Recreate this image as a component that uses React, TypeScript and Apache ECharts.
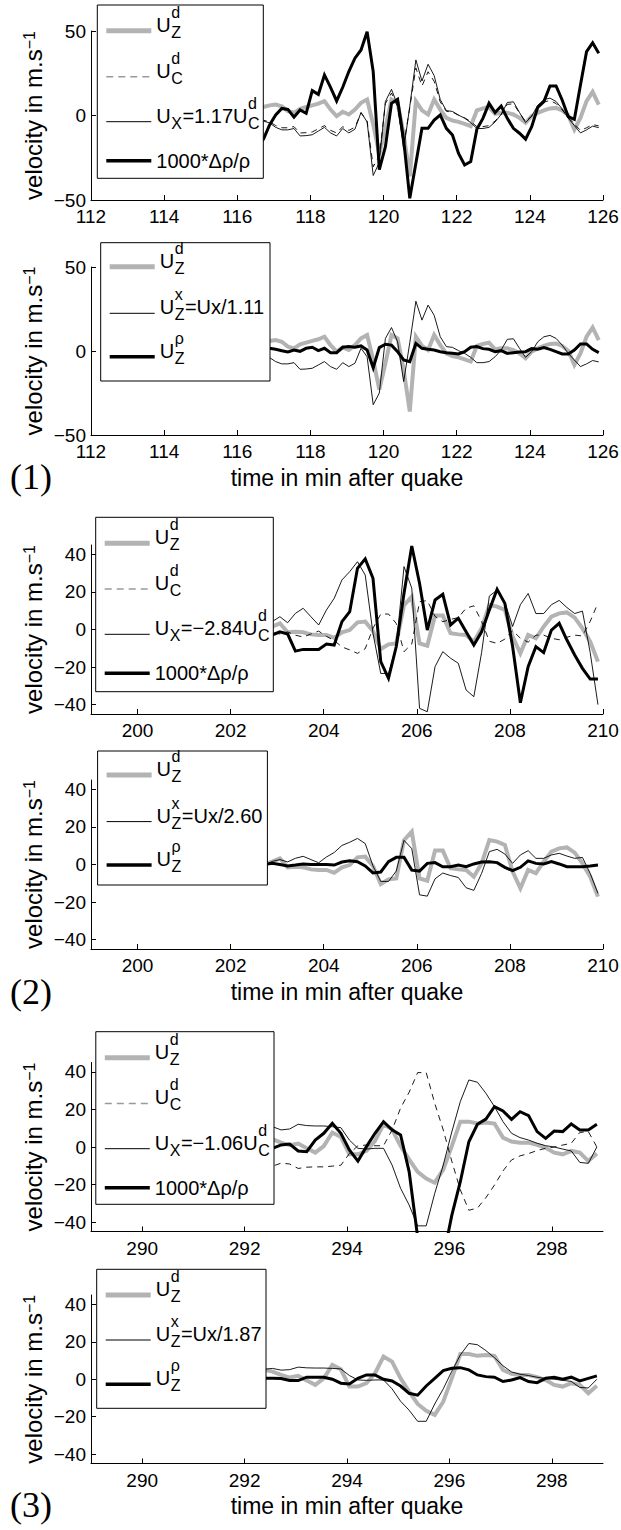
import React, { useEffect, useRef } from "react";
import * as echarts from "echarts";

// ---------------- DATA ----------------
// Sampling interval: 10 s = 1/6 min
const STEP = 1 / 6;

// Event (1): 112-126 min
const T1_START = 116.05;
const UZD_1 = [3, 2, 4, 5, 5, 6, 6.5, 5.5, 2.6, 1.6, 4, 5, 6, 7, 8.5, 3.5, -0.4, 2.2, 0.6, 3.5, 7.5, 9.5, -5.3, -23, -7.3, 9.5, 7.5, -11.3, -36, 8.5, 3, 0.6, 9.5, 3.5, -1.4, -3, -3.8, -5, -6.3, 3, 4.2, 5, 1, 1.6, 1.6, 0.6, -1.4, -4.3, -0.4, 1.6, 3, 4.2, 4.5, 3, 0.2, -8.3, -1.4, 8.5, 14, 6.5];
const UX_1 = [-2.2, -3.3, -3.3, -3.3, -3.3, -4.4, -7.0, -8.5, -8.5, -7.7, -12.1, -11.9, -11.4, -9.2, -7.0, -10.3, -12.1, -7.7, -10.3, -8.1, 1.8, -3.8, -35.5, -27.8, 8.3, 15.5, 6.1, -20.2, 5.5, 32.9, 20.4, 30.3, 23.6, 9.4, 2.9, 2.4, 0.2, -1.6, -4.2, -7.7, -7.7, -7.0, -3.8, 0.7, 7.7, 8.1, 1.8, -4.2, -0.4, 6.1, 9.4, 10.3, 8.3, 3.9, -1.6, -5.9, -10.3, -8.5, -6.3, -7.2];
const RHO_1 = [-37, -30, -24, -18, -14, -5.6, 0.3, 4.2, 3.6, -1, 3.3, 1.3, 14.7, 12.5, 24, 16.7, 8.6, 16.7, 26, 33.9, 38.8, 49.6, 26, -32, -18.4, 7.2, 9.6, -14.5, -49, -28.3, -7.6, -7.6, -2.7, 0.3, -7.6, -11.5, -22.4, -29.3, -27.3, -8.2, -1.7, 7.2, 1.7, 5.6, -1.7, -7.6, -10.5, -14, -6.6, 4.8, 8.2, 17.5, 17.5, 9.2, -0.7, -2.3, 18, 37.8, 43, 36.8];
const UZRHO_1 = [1, 1, 1.5, 1.5, 1.5, 1.6, 1, 0.2, -0.6, 0.6, -0.2, 1.6, 2.2, 0.2, 1.6, -1, -1, 2.2, 2.6, 2.2, 3, 0.6, -10, 2, 4, 3.5, -0.4, -5.3, -6.3, 4.5, 1.6, 1, 0.6, -0.4, -1, -1.4, -1.8, -0.4, 2.2, 2.6, 1.4, 1, -0.4, 0.2, -1.4, -1, -0.6, -0.4, 1.4, 1, 2, 1, -0.4, -1.8, -1.8, 0.6, 4.2, 4.2, 1, -1];
const KC_1 = 1.17; // Ux = 1.17 U_C^d
const KZ_1 = 1.11; // U_Z^x = Ux / 1.11

// Event (2): 199-210 min
const T2_START = 202.725;
const UZD_2 = [0, 1.5, 3.3, -1.5, -1.2, -1.5, -2.6, -2.9, -2.9, -4.4, -1.5, -0.3, 3.8, 4.2, -0.8, -10.4, -7.9, -7.4, 13, 17.5, -7.4, -8.6, 7.4, 7.4, -2, -2.6, -2.9, -6.5, 0.6, 13, 12.2, 10.4, -3.8, -12.7, -2.9, -4.7, 1.5, 6.8, 8.6, 9.1, 6.3, 0.6, -6.5, -17.1];
const UX_2 = [-1, 4.2, 6.8, 3.6, 8.6, 11.3, 6.8, 2.4, 10.4, 16.6, 26.4, 30.8, 36.1, 29, -2, -23.4, -23.4, -9.1, 33.5, 22, -42, -43.8, -19.8, -11.8, -15.3, -18, -32.2, -35.8, -12.3, 17.8, 21, 14.5, 1.6, 13.2, 19.2, 8.5, 8.5, 13.2, 15.5, 11.7, 8.5, 9.8, -12.3, -40];
const RHO_2 = [0, -2.9, -1.2, -2.4, -11.5, -10.6, -10.6, -10.6, -7.7, -8.3, 4.2, 9.5, 32.6, 37.6, 27.3, -17.1, -26, -9.1, 19.3, 44.5, 24.6, -0.3, 15.7, 18.7, 2.4, 6, -1.2, -8.3, -1.2, 10.4, 21.4, 13.9, -9.1, -39, -19.8, -9.1, -12.3, -0.3, 3.3, -5.6, -13.6, -20.7, -26.4, -26.4];
const UZRHO_2 = [0, 0.6, 0, -0.8, -0.3, 0.3, 0, 0, 0, -0.3, 1.3, 2, 1.5, -0.8, -4.5, -4, 1.5, 3.8, 3.8, -3, -3.5, 0.6, 1, -1.2, -1.2, -0.3, -1.2, 0.3, 1.3, 1.5, 1, -1.5, -3.3, -1.5, 1.9, 0.6, 0.3, 1.5, 0.3, -1.2, -1.2, -1.2, -0.8, -0.3];
const KC_2 = -2.84;
const KZ_2 = 2.6;

// Event (3): 289-299 min
const T3_START = 292.38;
const UZD_3 = [5, 4.1, 2.3, 0.9, 1.8, -0.7, -3, 0.5, 7.7, 5.3, -3.9, -3.9, -2.1, 3.2, 12.1, 9.4, 0.5, -6.6, -13.2, -16.8, -19, -12, 0.5, 13.5, 13.5, 12.5, 13, 12.5, 5, 2.9, 2.3, 2.3, 1.1, -0.4, -3, -3.9, -2.1, -3, -7.5, -3.5];
const UX_3 = [10, 10.8, 9.1, 9.6, 12.1, 11.4, 11.2, 11.2, 10.8, 10.3, 3.7, -0.7, -1.1, -0.7, -0.7, -9.6, -22, -30.9, -42, -42, -24.7, -9.6, 8, 24.2, 35.7, 34.5, 28.6, 21.5, 13.5, 7.3, 5, 3.7, 2, 0.7, 0, -1.1, -2.1, -8.2, -8.7, 0];
const RHO_3 = [-2, -0.7, 1.1, 1.6, -2.1, -2.5, 3.7, 7.3, 12.6, 7.3, -1.6, -7.5, 0.2, 7.3, 13.5, 9.1, 6.4, -13.1, -48, -62, -66, -59, -36.4, -18.5, 2.8, 12.1, 14.9, 21.5, 19.2, 14.7, 18.8, 16.7, 8.2, 4.6, 8.5, 8.2, 12.3, 9.1, 9.1, 12.1];
const UZRHO_3 = [0.5, 0.5, 0.4, -0.7, -0.7, 1.1, 1.1, 1.1, 0, -2.1, -2.5, 0.5, 2.3, 2.3, 0, -0.9, -3.6, -7.5, -8.5, -3.6, 0.5, 4.6, 5.9, 6.2, 5, 2.3, 1.4, 1.1, -1.2, -0.4, 0.9, -1.2, -1.8, 0.5, 1.1, 0, 1.1, -0.9, 0.5, 1.8];
const KC_3 = -1.06;
const KZ_3 = 1.87;

// Axis ticks
const X_TICKS_1 = [112, 114, 116, 118, 120, 122, 124, 126];
const X_TICKS_2 = [200, 202, 204, 206, 208, 210];
const X_TICKS_3 = [290, 292, 294, 296, 298];
const Y_TICKS_1 = [-50, 0, 50];
const Y_TICKS_23 = [-40, -20, 0, 20, 40];
const EVENT_LABELS = ["(1)", "(2)", "(3)"];

// ---------------- STYLE / LAYOUT ----------------
const FONT = '"Liberation Sans", Arial, Helvetica, sans-serif';
const SERIF = '"Liberation Serif", "Times New Roman", serif';
const GRAY = "#b3b3b3";
const PLOT_LEFT = 91;
const PLOT_WIDTH = 512;

const EVENTS = [
  { start: T1_START, uzd: UZD_1, ux: UX_1, rho: RHO_1, uzrho: UZRHO_1, kc: KC_1, kz: KZ_1, xMin: 112, xMax: 126, xTicks: X_TICKS_1, yMin: -50, yMax: 50, yTicks: Y_TICKS_1 },
  { start: T2_START, uzd: UZD_2, ux: UX_2, rho: RHO_2, uzrho: UZRHO_2, kc: KC_2, kz: KZ_2, xMin: 199, xMax: 210, xTicks: X_TICKS_2, yMin: -45, yMax: 45, yTicks: Y_TICKS_23 },
  { start: T3_START, uzd: UZD_3, ux: UX_3, rho: RHO_3, uzrho: UZRHO_3, kc: KC_3, kz: KZ_3, xMin: 289, xMax: 299, xTicks: X_TICKS_3, yMin: -45, yMax: 45, yTicks: Y_TICKS_23 },
];

const GRID_POS = [
  { top: 31, height: 169 },
  { top: 267, height: 168 },
  { top: 545, height: 169 },
  { top: 780, height: 169 },
  { top: 1062.5, height: 169 },
  { top: 1295, height: 168.5 },
];

const LEGEND_BOX = [
  { x: 97.3, y: 5, w: 166, h: 173.3, rows: [25.7, 71.7, 116.7, 155.7] },
  { x: 100.7, y: 242.7, w: 169.3, h: 138.3, rows: [24, 70.6, 114] },
  { x: 95.7, y: 517.3, w: 177.6, h: 174.4, rows: [26, 71.7, 117, 156] },
  { x: 97.6, y: 751, w: 169.8, h: 134, rows: [24, 70.6, 114] },
  { x: 95.8, y: 1031.7, w: 178.2, h: 172.6, rows: [26, 71.7, 117, 156] },
  { x: 96.7, y: 1269.3, w: 169.3, h: 139, rows: [25.7, 70.7, 115] },
];

const LABEL_POS = [477, 992, 1505];

const SAMPLE_STYLE: Record<string, any> = {
  gray: { stroke: GRAY, lineWidth: 5 },
  dash: { stroke: "#9a9a9a", lineWidth: 1.5, lineDash: [7, 5] },
  thin: { stroke: "#000", lineWidth: 1 },
  thick: { stroke: "#000", lineWidth: 3.5 },
};

const SERIES_STYLE: Record<string, any> = {
  gray: { color: GRAY, width: 4, type: "solid", z: 2 },
  dash: { color: "#000", width: 0.9, type: [6, 5], z: 3 },
  thin: { color: "#000", width: 0.9, type: "solid", z: 4 },
  thick: { color: "#000", width: 3, type: "solid", z: 5 },
};

// ---------------- HELPERS ----------------
const minus = (s: string) => s.replace(/-/g, "\u2212");
const fmtNum = (v: number) => minus(String(v));

function pairs(start: number, vals: number[]) {
  return vals.map((v, i) => [+(start + i * STEP).toFixed(4), v]);
}

let _ctx: CanvasRenderingContext2D | null = null;
function textWidth(s: string, size: number): number {
  if (!_ctx) _ctx = document.createElement("canvas").getContext("2d");
  if (!_ctx) return s.length * size * 0.55;
  _ctx.font = `${size}px ${FONT}`;
  return _ctx.measureText(s).width;
}

function txt(s: string, x: number, baseline: number, size: number, family = FONT, align = "left") {
  return {
    type: "text",
    z: 101,
    silent: true,
    style: {
      text: s,
      x,
      y: baseline - 0.3465 * size,
      font: `${size}px ${family}`,
      fill: "#000",
      align,
      verticalAlign: "middle",
      textAlign: align,
      textVerticalAlign: "middle",
    },
  };
}

type Seg = { t: string; sub?: string; sup?: string };

const MAIN_SIZE = 20;
const SUB_SIZE = 16;

function rowText(segs: Seg[], x0: number, lineY: number) {
  const els: any[] = [];
  const hasScript = segs.some((s) => s.sub || s.sup);
  const base = hasScript ? lineY + 1 : lineY + 7;
  let x = x0;
  for (const s of segs) {
    els.push(txt(s.t, x, base, MAIN_SIZE));
    x += textWidth(s.t, MAIN_SIZE);
    let w = 0;
    if (s.sup) {
      els.push(txt(s.sup, x + 0.5, base - 14, SUB_SIZE));
      w = Math.max(w, textWidth(s.sup, SUB_SIZE));
    }
    if (s.sub) {
      els.push(txt(s.sub, x + 0.5, base + 6, SUB_SIZE));
      w = Math.max(w, textWidth(s.sub, SUB_SIZE));
    }
    x += w ? w + 1 : 0;
  }
  return els;
}

function legendElements(panel: number) {
  const ev = EVENTS[Math.floor(panel / 2)];
  const box = LEGEND_BOX[panel];
  const isA = panel % 2 === 0;
  const kcTxt = "=" + minus(ev.kc.toFixed(2)) + "U";
  const kzTxt = "=Ux/" + ev.kz.toFixed(2);
  const rows: { style: string; segs: Seg[] }[] = isA
    ? [
        { style: "gray", segs: [{ t: "U", sub: "Z", sup: "d" }] },
        { style: "dash", segs: [{ t: "U", sub: "C", sup: "d" }] },
        { style: "thin", segs: [{ t: "U", sub: "X" }, { t: kcTxt, sub: "C", sup: "d" }] },
        { style: "thick", segs: [{ t: "1000*\u0394\u03c1/\u03c1" }] },
      ]
    : [
        { style: "gray", segs: [{ t: "U", sub: "Z", sup: "d" }] },
        { style: "thin", segs: [{ t: "U", sub: "Z", sup: "x" }, { t: kzTxt }] },
        { style: "thick", segs: [{ t: "U", sub: "Z", sup: "\u03c1" }] },
      ];
  const els: any[] = [
    {
      type: "rect",
      z: 100,
      silent: true,
      shape: { x: box.x, y: box.y, width: box.w, height: box.h },
      style: { fill: "#fff", stroke: "#000", lineWidth: 1 },
    },
  ];
  rows.forEach((r, i) => {
    const ly = box.y + box.rows[i];
    els.push({
      type: "line",
      z: 101,
      silent: true,
      shape: { x1: box.x + 9, y1: ly, x2: box.x + 54, y2: ly },
      style: { ...SAMPLE_STYLE[r.style], fill: null },
    });
    els.push(...rowText(r.segs, box.x + 59, ly));
  });
  return els;
}

function buildOption() {
  const grid: any[] = [];
  const xAxis: any[] = [];
  const yAxis: any[] = [];
  const series: any[] = [];
  const graphic: any[] = [];

  for (let p = 0; p < 6; p++) {
    const ev = EVENTS[Math.floor(p / 2)];
    const isA = p % 2 === 0;
    const g = GRID_POS[p];
    grid.push({ left: PLOT_LEFT, top: g.top, width: PLOT_WIDTH, height: g.height, containLabel: false, outerBoundsMode: "none" });
    xAxis.push({
      type: "value",
      gridIndex: p,
      min: ev.xMin,
      max: ev.xMax,
      axisLine: { show: true, onZero: false, lineStyle: { color: "#000", width: 1 } },
      axisTick: { show: true, inside: true, length: 5, customValues: ev.xTicks, lineStyle: { color: "#000", width: 1 } },
      axisLabel: { show: true, customValues: ev.xTicks, margin: 7, color: "#000", fontSize: 19, fontFamily: FONT, formatter: fmtNum },
      splitLine: { show: false },
      name: isA ? "" : "time in min after quake",
      nameLocation: "middle",
      nameGap: 31,
      nameMoveOverlap: false,
      nameTextStyle: { fontSize: 23, fontFamily: FONT, color: "#000" },
    });
    yAxis.push({
      type: "value",
      gridIndex: p,
      min: ev.yMin,
      max: ev.yMax,
      axisLine: { show: true, onZero: false, lineStyle: { color: "#000", width: 1 } },
      axisTick: { show: true, inside: true, length: 5, customValues: ev.yTicks, lineStyle: { color: "#000", width: 1 } },
      axisLabel: { show: true, customValues: ev.yTicks, margin: 5, color: "#000", fontSize: 19, fontFamily: FONT, formatter: fmtNum },
      splitLine: { show: false },
      name: "velocity in m.s{sup|\u22121}",
      nameLocation: "middle",
      nameGap: 46,
      nameRotate: 90,
      nameMoveOverlap: false,
      nameTextStyle: {
        fontSize: 24,
        fontFamily: FONT,
        color: "#000",
        rich: { sup: { fontSize: 16, fontFamily: FONT, color: "#000", verticalAlign: "top" } },
      },
    });

    const lines: { key: string; name: string; data: number[] }[] = isA
      ? [
          { key: "gray", name: "U_Z^d", data: ev.uzd },
          { key: "dash", name: "U_C^d", data: ev.ux.map((v) => +(v / ev.kc).toFixed(2)) },
          { key: "thin", name: "U_X", data: ev.ux },
          { key: "thick", name: "1000*drho/rho", data: ev.rho },
        ]
      : [
          { key: "gray", name: "U_Z^d", data: ev.uzd },
          { key: "thin", name: "U_Z^x", data: ev.ux.map((v) => +(v / ev.kz).toFixed(2)) },
          { key: "thick", name: "U_Z^rho", data: ev.uzrho },
        ];
    for (const l of lines) {
      const st = SERIES_STYLE[l.key];
      series.push({
        type: "line",
        name: l.name,
        xAxisIndex: p,
        yAxisIndex: p,
        data: pairs(ev.start, l.data),
        showSymbol: false,
        symbol: "none",
        clip: true,
        silent: true,
        z: st.z,
        lineStyle: { color: st.color, width: st.width, type: st.type, join: "miter", cap: "butt" },
        emphasis: { disabled: true },
      });
    }
    graphic.push(...legendElements(p));
  }

  EVENT_LABELS.forEach((lab, i) => {
    graphic.push(txt(lab, 31, LABEL_POS[i] + 0.3465 * 36, 36, SERIF, "center"));
  });

  return {
    animation: false,
    backgroundColor: "#fff",
    tooltip: { show: false },
    grid,
    xAxis,
    yAxis,
    series,
    graphic: { elements: graphic },
  };
}

export default function App() {
  const ref = useRef<HTMLDivElement>(null);
  useEffect(() => {
    if (!ref.current) return;
    const chart = echarts.init(ref.current, undefined, { renderer: "svg" });
    chart.setOption(buildOption() as any);
    return () => chart.dispose();
  }, []);
  return (
    <div
      ref={ref}
      style={{ position: "absolute", left: 0, top: 0, width: 621, height: 1530, background: "#fff" }}
    />
  );
}
